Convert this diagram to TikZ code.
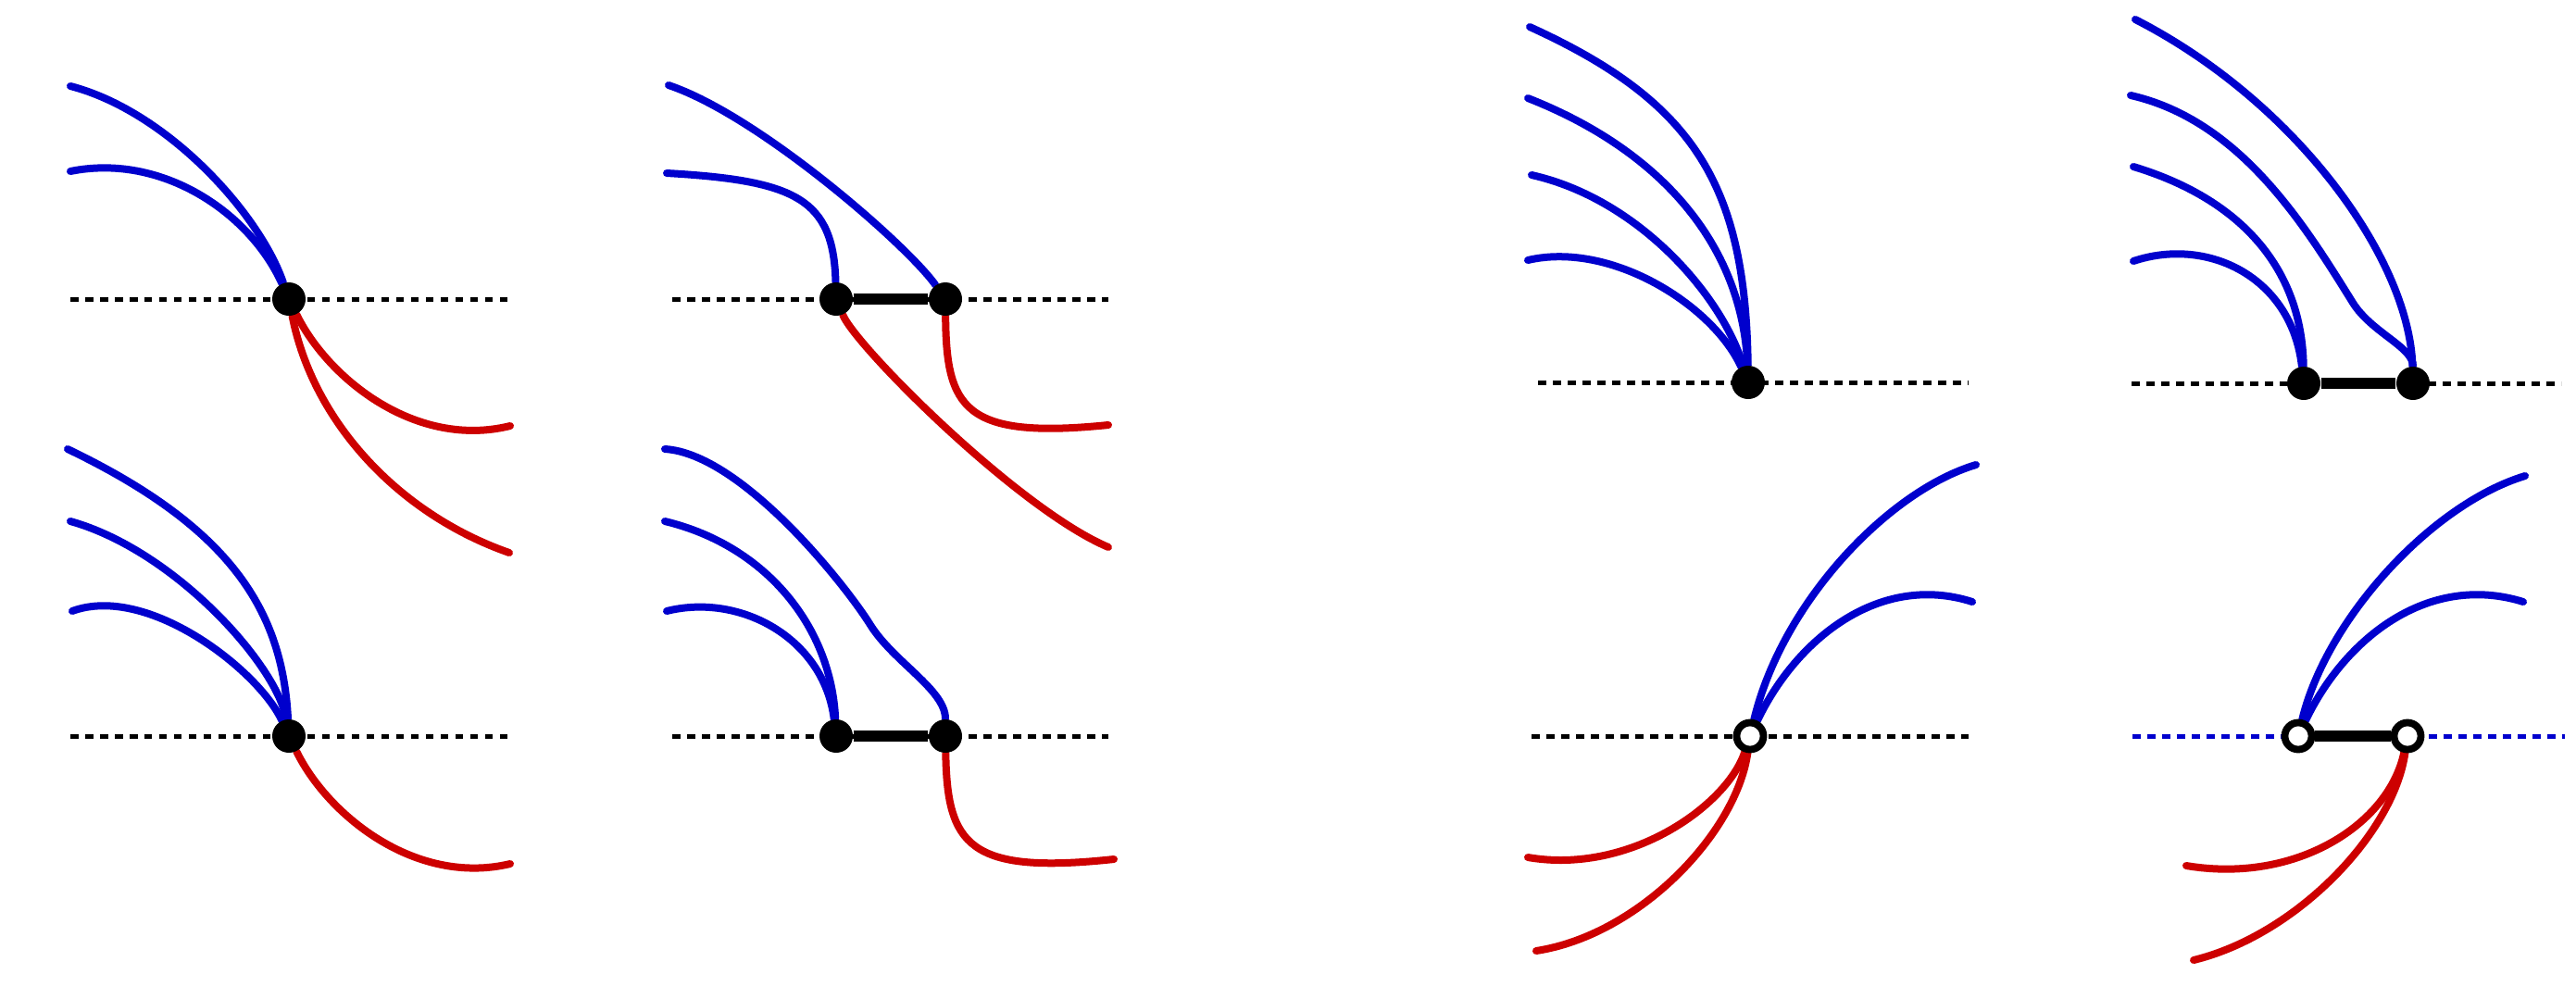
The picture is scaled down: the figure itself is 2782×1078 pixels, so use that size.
\documentclass[tikz,border=0pt]{standalone}
\usetikzlibrary{backgrounds}
\definecolor{curveblue}{RGB}{0,0,205}
\definecolor{curvered}{RGB}{205,0,0}

\begin{document}
\begin{tikzpicture}[x=0.1mm, y=-0.1mm,
    fulldot/.style={circle, fill=black, inner sep=0pt, minimum size=3.6mm},
    opendot/.style={circle, draw=black, fill=white, line width=0.78mm, inner sep=0pt, minimum size=2.9mm},
    axis/.style={line width=0.5mm, dash pattern=on 0.85mm off 0.75mm},
    bar/.style={line width=1.2mm},
    blueline/.style={curveblue, line width=0.8mm, line cap=round},
    redline/.style={curvered, line width=0.8mm, line cap=round}]
  \useasboundingbox (0,0) rectangle (2782,1078);

  % vertices
  \node[fulldot] (a) at (312,323) {};
  \node[fulldot] (b) at (312,795) {};
  \node[fulldot] (cl) at (903,323) {};
  \node[fulldot] (cr) at (1021,323) {};
  \node[fulldot] (dl) at (903,795) {};
  \node[fulldot] (dr) at (1021,795) {};
  \node[fulldot] (e) at (1888,413) {};
  \node[fulldot] (fl) at (2488,414) {};
  \node[fulldot] (fr) at (2606,414) {};
  \node[opendot] (g) at (1890,795) {};
  \node[opendot] (hl) at (2482,795) {};
  \node[opendot] (hr) at (2600,795) {};

  % free ends
  \coordinate (a-w) at (76,323);   \coordinate (a-e) at (548,323);
  \coordinate (b-w) at (76,795);   \coordinate (b-e) at (548,795);
  \coordinate (c-w) at (726,323);  \coordinate (c-e) at (1197,323);
  \coordinate (d-w) at (726,795);  \coordinate (d-e) at (1197,795);
  \coordinate (e-w) at (1661,413); \coordinate (e-e) at (2126,413);
  \coordinate (f-w) at (2302,414); \coordinate (f-e) at (2766,414);
  \coordinate (g-w) at (1654,795); \coordinate (g-e) at (2126,795);
  \coordinate (h-w) at (2303,795); \coordinate (h-e) at (2770,795);

  \coordinate (a-1) at (76,93);    \coordinate (a-2) at (76,185);
  \coordinate (a-3) at (551,460);  \coordinate (a-4) at (550,597);
  \coordinate (b-1) at (73,485);   \coordinate (b-2) at (76,563);
  \coordinate (b-3) at (78,660);   \coordinate (b-4) at (551,933);
  \coordinate (c-1) at (722,92);   \coordinate (c-2) at (720,187);
  \coordinate (c-3) at (1197,591); \coordinate (c-4) at (1197,459);
  \coordinate (d-1) at (718,485);  \coordinate (d-2) at (718,563);
  \coordinate (d-3) at (720,660);  \coordinate (d-4) at (1203,928);
  \coordinate (e-1) at (1652,29);  \coordinate (e-2) at (1650,106);
  \coordinate (e-3) at (1654,189); \coordinate (e-4) at (1650,281);
  \coordinate (f-1) at (2306,21);  \coordinate (f-2) at (2301,103);
  \coordinate (f-3) at (2304,180); \coordinate (f-4) at (2304,282);
  \coordinate (g-1) at (2134,502); \coordinate (g-2) at (2130,650);
  \coordinate (g-3) at (1650,926); \coordinate (g-4) at (1659,1027);
  \coordinate (h-1) at (2727,514); \coordinate (h-2) at (2725,650);
  \coordinate (h-3) at (2361,935); \coordinate (h-4) at (2369,1037);

  \begin{pgfonlayer}{background}
    \draw[axis] (a-w) -- (a-e);
    \draw[axis] (b-w) -- (b-e);
    \draw[axis] (c-w) -- (c-e);
    \draw[axis] (d-w) -- (d-e);
    \draw[axis] (e-w) -- (e-e);
    \draw[axis] (f-w) -- (f-e);
    \draw[axis] (g-w) -- (g-e);
    \draw[axis, curveblue] (h-w) -- (h-e);

    \draw[bar] (cl) -- (cr);
    \draw[bar] (dl) -- (dr);
    \draw[bar] (fl) -- (fr);
    \draw[bar] (hl) -- (hr);

    % top left
    \draw[blueline] (a) .. controls (280,230) and (180,120) .. (a-1);
    \draw[blueline] (a) .. controls (270,230) and (175,165) .. (a-2);
    \draw[redline] (a) .. controls (355,410) and (450,485) .. (a-3);
    \draw[redline] (a) .. controls (338,455) and (430,555) .. (a-4);

    % bottom left
    \draw[blueline] (b) .. controls (305,660) and (250,570) .. (b-1);
    \draw[blueline] (b) .. controls (300,720) and (190,595) .. (b-2);
    \draw[blueline] (b) .. controls (280,725) and (160,630) .. (b-3);
    \draw[redline] (b) .. controls (355,882) and (450,957) .. (b-4);

    % top, second
    \draw[blueline] (cr) .. controls (980,265) and (820,125) .. (c-1);
    \draw[blueline] (cl) .. controls (900,215) and (860,195) .. (c-2);
    \draw[redline] (cl) .. controls (925,375) and (1100,550) .. (c-3);
    \draw[redline] (cr) .. controls (1022,440) and (1040,475) .. (c-4);

    % bottom, second
    \draw[blueline] (dr) .. controls (1021,745) and (965,715) .. (940,675)
                         .. controls (912,630) and (800,490) .. (d-1);
    \draw[blueline] (dl) .. controls (898,680) and (830,590) .. (d-2);
    \draw[blueline] (dl) .. controls (890,690) and (800,640) .. (d-3);
    \draw[redline] (dr) .. controls (1023,912) and (1045,945) .. (d-4);

    % top, third
    \draw[blueline] (e) .. controls (1885,200) and (1830,110) .. (e-1);
    \draw[blueline] (e) .. controls (1882,270) and (1800,165) .. (e-2);
    \draw[blueline] (e) .. controls (1860,320) and (1770,215) .. (e-3);
    \draw[blueline] (e) .. controls (1850,330) and (1740,260) .. (e-4);

    % top, fourth
    \draw[blueline] (fr) .. controls (2602,280) and (2480,110) .. (f-1);
    \draw[blueline] (fr) .. controls (2606,375) and (2561,359) .. (2541,327)
                         .. controls (2490,245) and (2420,130) .. (f-2);
    \draw[blueline] (fl) .. controls (2486,290) and (2420,215) .. (f-3);
    \draw[blueline] (fl) .. controls (2475,300) and (2385,255) .. (f-4);

    % bottom, third
    \draw[blueline] (g) .. controls (1925,650) and (2040,530) .. (g-1);
    \draw[blueline] (g) .. controls (1940,690) and (2030,618) .. (g-2);
    \draw[redline] (g) .. controls (1865,870) and (1760,945) .. (g-3);
    \draw[redline] (g) .. controls (1875,900) and (1770,1010) .. (g-4);

    % bottom, fourth
    \draw[blueline] (hl) .. controls (2512,670) and (2625,545) .. (h-1);
    \draw[blueline] (hl) .. controls (2532,690) and (2622,618) .. (h-2);
    \draw[redline] (hr) .. controls (2580,890) and (2480,955) .. (h-3);
    \draw[redline] (hr) .. controls (2585,900) and (2480,1010) .. (h-4);
  \end{pgfonlayer}
\end{tikzpicture}
\end{document}
